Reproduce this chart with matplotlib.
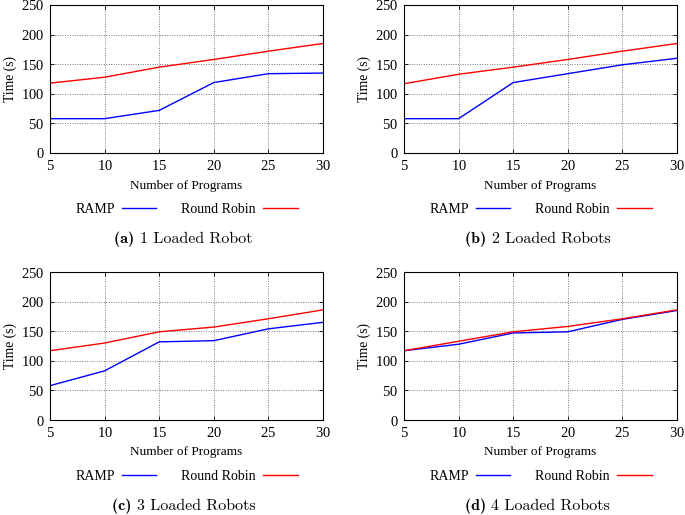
import matplotlib
matplotlib.use("Agg")
import matplotlib.pyplot as plt

programs = [5, 10, 15, 20, 25, 30]
ramp_1 = [58, 58, 72, 119, 134, 135]
rr_1 = [118, 128, 145, 158, 172, 185]
ramp_2 = [58, 58, 119, 134, 149, 160]
rr_2 = [117, 133, 145, 158, 172, 185]
ramp_3 = [58, 83, 132, 134, 154, 165]
rr_3 = [117, 130, 149, 157, 171, 186]
ramp_4 = [117, 128, 147, 149, 170, 185]
rr_4 = [117, 133, 149, 158, 171, 186]
captions = [("(a)", "1 Loaded Robot"), ("(b)", "2 Loaded Robots"),
            ("(c)", "3 Loaded Robots"), ("(d)", "4 Loaded Robots")]
yticks = [0, 50, 100, 150, 200, 250]

plt.rcParams['font.family'] = ['Liberation Serif', 'DejaVu Serif']
plt.rcParams['axes.formatter.use_mathtext'] = True

fig = plt.figure(figsize=(6.85, 5.15), dpi=100)
W, H = 685, 515
boxes = [(50, 5, 323, 153), (404, 5, 677, 153), (50, 272, 323, 420), (404, 272, 677, 420)]
data = [(ramp_1, rr_1), (ramp_2, rr_2), (ramp_3, rr_3), (ramp_4, rr_4)]

caps = []
for (l, t, r, b), (ramp, rr), (tag, cap) in zip(boxes, data, captions):
    ax = fig.add_axes([l / W, 1 - b / H, (r - l) / W, (b - t) / H])
    ax.plot(programs, ramp, color='#0000ff', lw=1.0, label='RAMP')
    ax.plot(programs, rr, color='#ff0000', lw=1.0, label='Round Robin')
    ax.set_xlim(5, 30)
    ax.set_ylim(0, 250)
    ax.set_xticks(programs)
    ax.set_yticks(yticks)
    ax.grid(True, linestyle=(0, (1, 1.5)), color='#777777', lw=0.7)
    ax.tick_params(direction='in', length=3, width=0.6, labelsize=10.5, top=True, right=True, pad=4)
    for s in ax.spines.values():
        s.set_linewidth(0.8)
    ax.set_xlabel('Number of Programs', fontsize=9.5, labelpad=5)
    ax.set_ylabel('Time (s)', fontsize=9.8, labelpad=3)
    ax.legend(loc='center', bbox_to_anchor=(0.5, -0.38), ncol=2, frameon=False,
              markerfirst=False, fontsize=10, handlelength=2.5, columnspacing=1.8,
              handletextpad=0.5)
    cx = (l + r) / 2 - 3
    cy = 1 - (b + 86) / H
    t1 = fig.text(0, cy, tag + " ", family='cmb10', fontsize=11.5, ha='left', va='center')
    t2 = fig.text(0, cy, cap, family='cmr10', fontsize=11.5, ha='left', va='center')
    caps.append((cx, t1, t2))

fig.canvas.draw()
rend = fig.canvas.get_renderer()
for cx, t1, t2 in caps:
    w1 = t1.get_window_extent(rend).width
    w2 = t2.get_window_extent(rend).width
    x0 = cx - (w1 + w2) / 2
    t1.set_x(x0 / W)
    t2.set_x((x0 + w1) / W)

fig.savefig('out.png', dpi=100)
